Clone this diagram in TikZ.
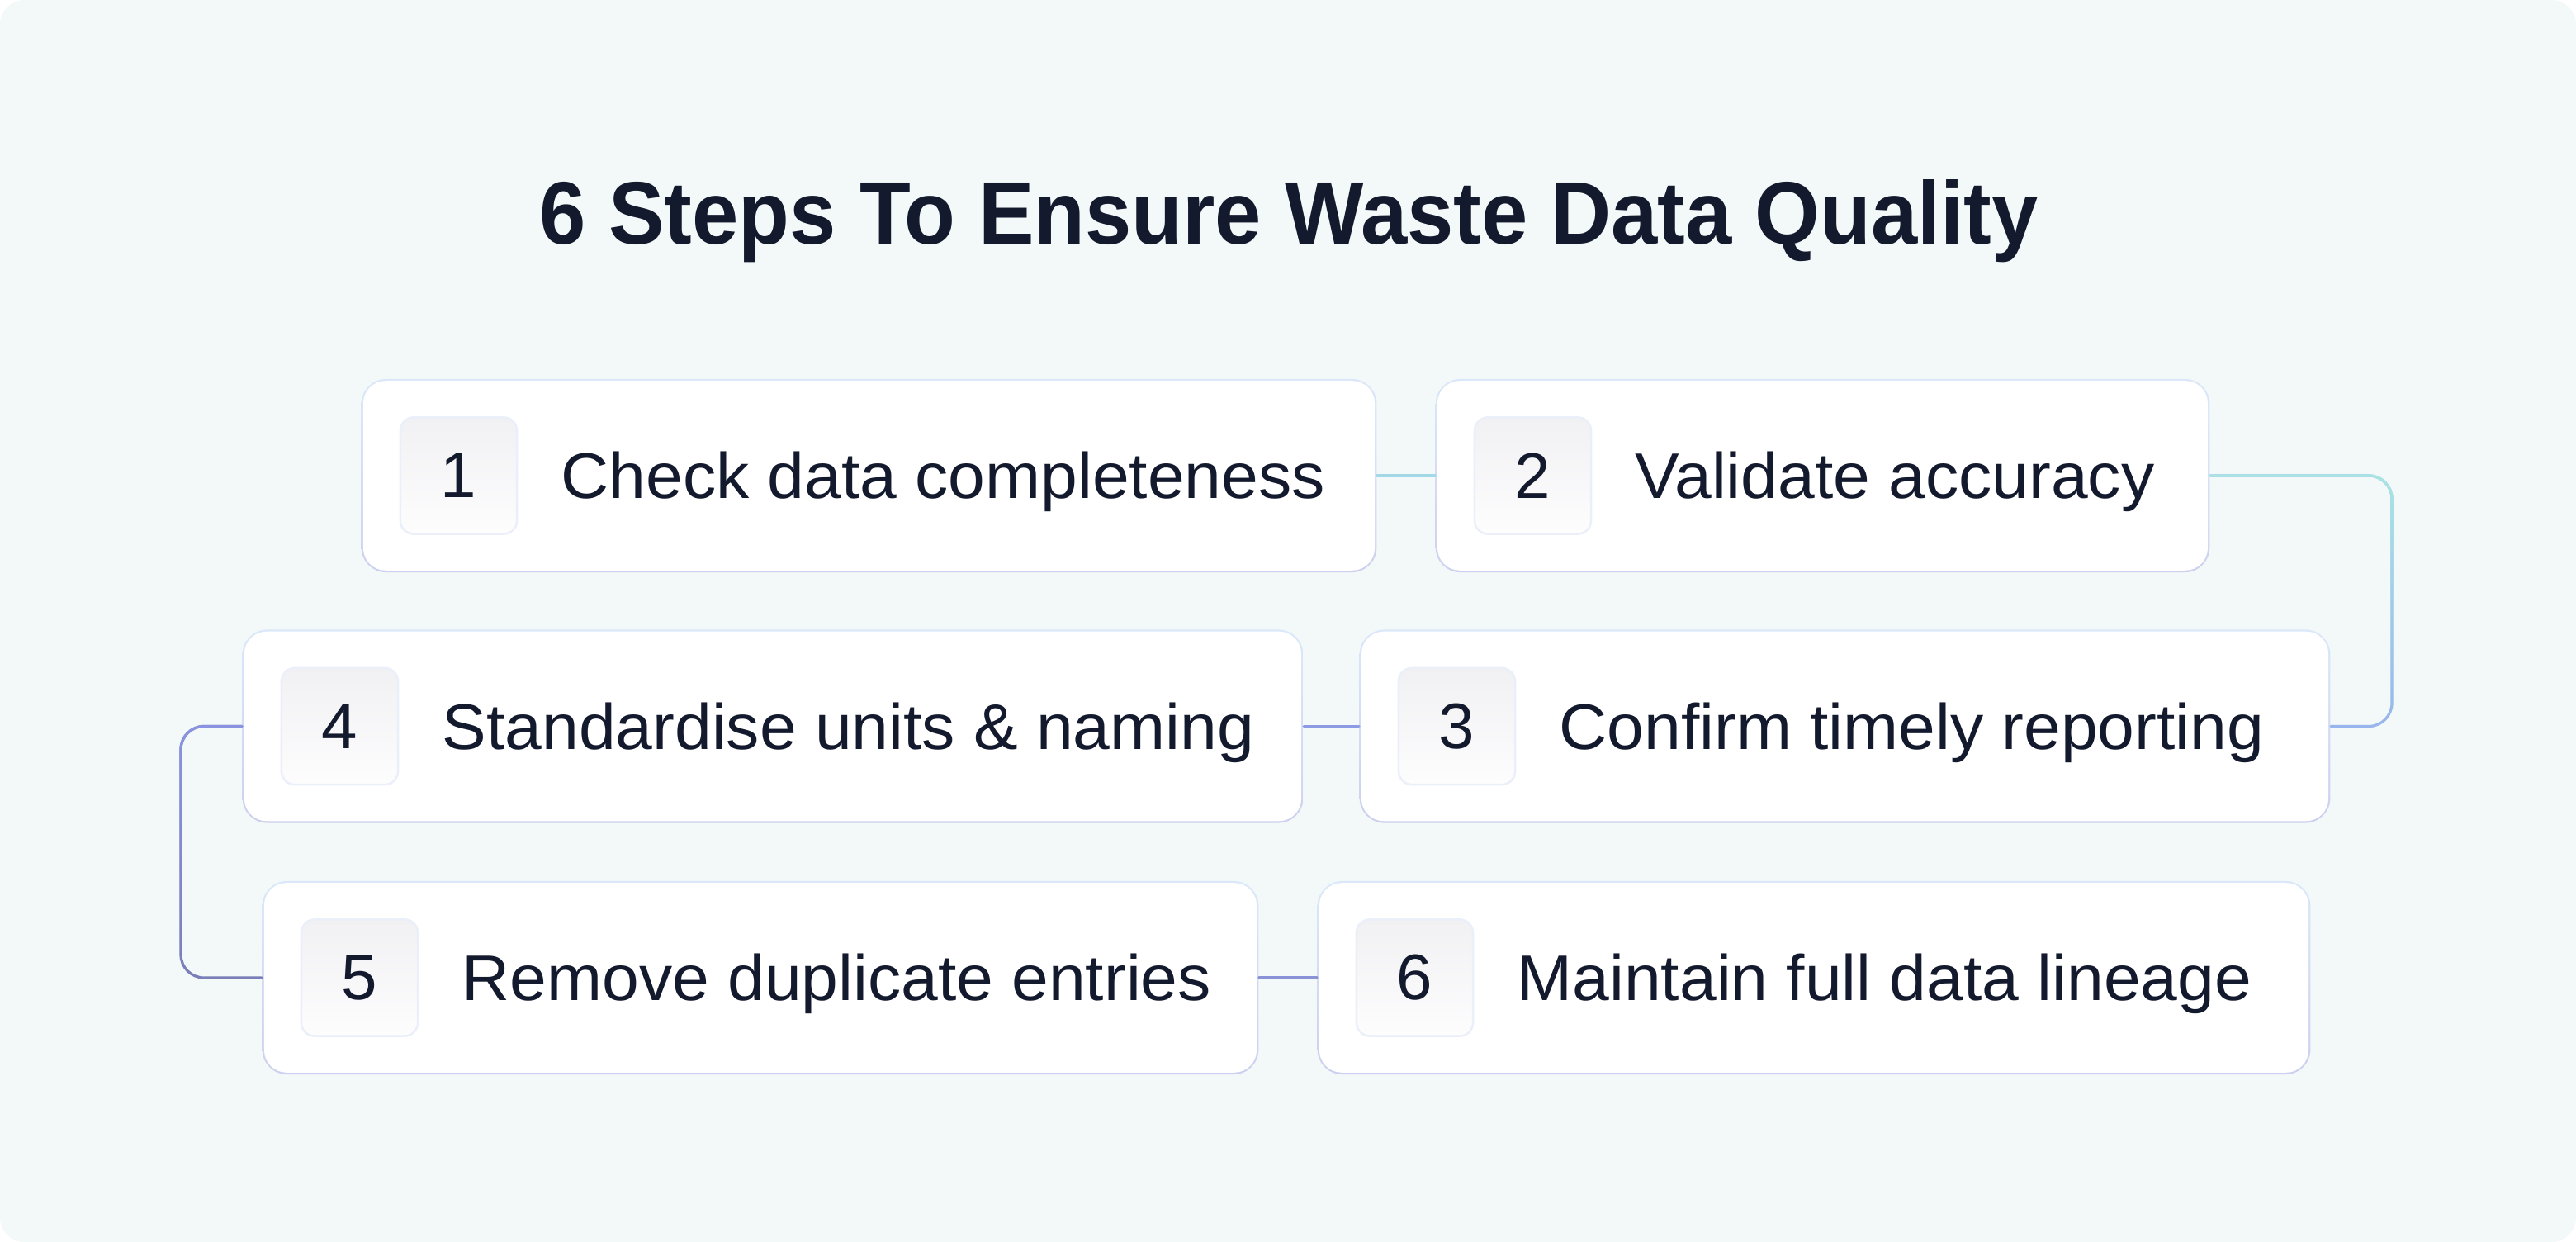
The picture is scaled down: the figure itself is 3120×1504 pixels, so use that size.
\documentclass[tikz,border=0pt]{standalone}
\usepackage{fontspec}
\setmainfont{Liberation Sans}
\usetikzlibrary{calc,fadings}
\definecolor{bg}{HTML}{F3F8F8}
\definecolor{ink}{HTML}{141A2E}
\definecolor{bordtop}{HTML}{DAE8F9}
\definecolor{bordbot}{HTML}{CDD0EE}
\definecolor{numbord}{HTML}{EAEFFA}
\definecolor{numfillA}{HTML}{F1F1F3}
\definecolor{numfillB}{HTML}{FDFDFE}
\definecolor{cA}{HTML}{A3D9E6}
\definecolor{cBtop}{HTML}{A8E6E2}
\definecolor{cBbot}{HTML}{98B6EE}
\definecolor{cC}{HTML}{8C9BE3}
\definecolor{cDtop}{HTML}{8A94E2}
\definecolor{cDbot}{HTML}{7B7FB8}
\definecolor{cE}{HTML}{8A92D8}
\newfontfamily\stepfont{Liberation Sans}[FakeStretch=1.03]
\newfontfamily\headfont{Liberation Sans}[FakeStretch=0.94]
\tikzset{
  stepbox/.style={rectangle, rounded corners=0.3cm, inner sep=0pt, draw=none,
    shading=axis, top color=bordtop, bottom color=bordbot, minimum height=2.34cm},
  numbox/.style={rectangle, rounded corners=0.16cm, inner sep=0pt,
    minimum width=1.41cm, minimum height=1.41cm, draw=numbord, line width=0.025cm,
    shading=axis, shading angle=45, top color=numfillA, bottom color=numfillB,
    text=ink, font=\fontsize{22.2}{26}\selectfont},
  steptext/.style={anchor=base west, inner sep=0pt, text=ink, font=\stepfont\fontsize{22.2}{26}\selectfont},
  titletext/.style={anchor=base, inner sep=0pt, text=ink, font=\headfont\fontsize{30.6}{36}\selectfont\bfseries},
  link/.style={line width=0.032cm, line cap=round},
  elbowlink/.style={link, rounded corners=0.28cm}
}
\newcommand{\innerwhite}[1]{%
  \fill[white, rounded corners=0.27cm] ($(#1.north west)+(3,3)$) rectangle ($(#1.south east)+(-3,-3)$);}
\begin{document}
\begin{tikzpicture}[x=0.01cm,y=-0.01cm]
\useasboundingbox (0,0) rectangle (3120,1504);
\fill[white] (0,0) rectangle (3120,1504);
\fill[bg, rounded corners=0.3cm] (0,0) rectangle (3120,1504);

\node[titletext] (title) at (1561,296) {6 Steps To Ensure Waste Data Quality};

\coordinate (k23) at (2897,576);
\coordinate (k45) at (219,879.5);

% boxes
\node[stepbox, minimum width=12.29cm] (b1) at (1052.5,576) {};
\node[stepbox, minimum width=9.37cm]  (b2) at (2207.5,576) {};
\node[stepbox, minimum width=11.75cm] (b3) at (2234.5,879.5) {};
\node[stepbox, minimum width=12.84cm] (b4) at (936,879.5) {};
\node[stepbox, minimum width=12.06cm] (b5) at (921,1184) {};
\node[stepbox, minimum width=12.02cm] (b6) at (2197,1184) {};
\innerwhite{b1}\innerwhite{b2}\innerwhite{b3}\innerwhite{b4}\innerwhite{b5}\innerwhite{b6}

\draw[link, cA] (b1.east) -- (b2.west);
\draw[elbowlink, cBbot] (b2.east) -- (k23) |- (b3.east);
\draw[elbowlink, cBtop, path fading=south] (b2.east) -- (k23) |- (b3.east);
\draw[link, cC] (b4.east) -- (b3.west);
\draw[elbowlink, cDbot] (b4.west) -- (k45) |- (b5.west);
\draw[elbowlink, cDtop, path fading=south] (b4.west) -- (k45) |- (b5.west);
\draw[link, cE] (b5.east) -- (b6.west);

% number boxes
\node[numbox] (n1) at (555.5,576) {1};
\node[numbox] (n2) at (1856.5,576) {2};
\node[numbox] (n3) at (1764.5,879.5) {3};
\node[numbox] (n4) at (411.5,879.5) {4};
\node[numbox] (n5) at (435.5,1184) {5};
\node[numbox] (n6) at (1713.5,1184) {6};

% texts
\node[steptext] (t1) at (679,604) {Check data completeness};
\node[steptext] (t2) at (1980,604) {Validate accuracy};
\node[steptext] (t3) at (1888,907.5) {Confirm timely reporting};
\node[steptext] (t4) at (535,907.5) {Standardise units \& naming};
\node[steptext] (t5) at (559,1212) {Remove duplicate entries};
\node[steptext] (t6) at (1837,1212) {Maintain full data lineage};
\end{tikzpicture}
\end{document}
